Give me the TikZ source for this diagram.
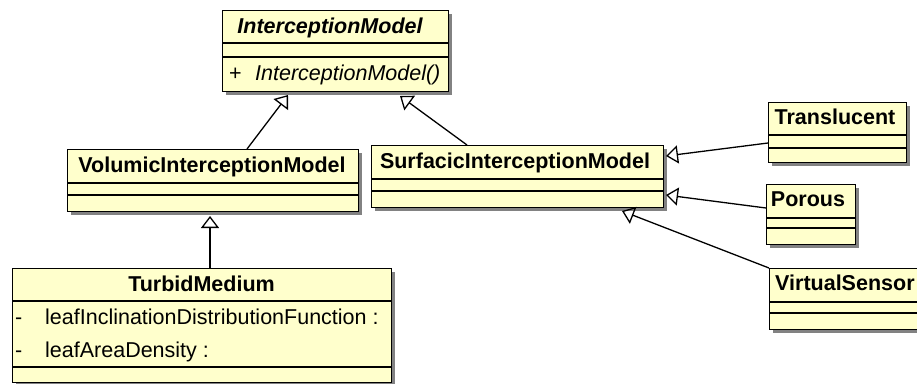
\documentclass[tikz,border=0pt]{standalone}
\usepackage{fontspec}
\setmainfont{Liberation Sans}
\usetikzlibrary{arrows.meta,shadows}

\definecolor{classfill}{RGB}{255,255,204}
\definecolor{shadowgray}{RGB}{130,130,130}

\begin{document}
\begin{tikzpicture}[x=1pt,y=-1pt,
  classbox/.style={draw=black, line width=1.3pt, fill=classfill, inner sep=0pt,
    anchor=north west,
    drop shadow={shadow xshift=3pt, shadow yshift=-3pt, fill=shadowgray, opacity=1}},
  sep/.style={line width=1.3pt},
  umltext/.style={inner sep=0pt, anchor=base, font=\fontsize{21.5}{24}\selectfont},
  classname/.style={umltext, font=\fontsize{21.5}{24}\selectfont\bfseries},
  member/.style={umltext, anchor=base west},
  gen/.style={line width=1.3pt,
    -{Triangle[open, length=12pt, width=18pt, line width=1.3pt]}}
]
\useasboundingbox (0,0) rectangle (917,383);

% ---- InterceptionModel ----
\node[classbox, minimum width=226pt, minimum height=81pt] (im) at (222,10) {};
\draw[sep] (im.west |- 0,43) -- (im.east |- 0,43);
\draw[sep] (im.west |- 0,57) -- (im.east |- 0,57);
\node[classname] (imName) at (330,33) {\itshape InterceptionModel};
\node[member] (imPlus) at (229,80) {+};
\node[member] (imCtor) at (255,80) {\itshape InterceptionModel()};

% ---- VolumicInterceptionModel ----
\node[classbox, minimum width=291pt, minimum height=62pt] (vim) at (67,149) {};
\draw[sep] (vim.west |- 0,183) -- (vim.east |- 0,183);
\draw[sep] (vim.west |- 0,195) -- (vim.east |- 0,195);
\node[classname] (vimName) at (212,172) {VolumicInterceptionModel};

% ---- SurfacicInterceptionModel ----
\node[classbox, minimum width=292pt, minimum height=62pt] (sim) at (371,145) {};
\draw[sep] (sim.west |- 0,179) -- (sim.east |- 0,179);
\draw[sep] (sim.west |- 0,191) -- (sim.east |- 0,191);
\node[classname] (simName) at (515,168) {SurfacicInterceptionModel};

% ---- TurbidMedium ----
\node[classbox, minimum width=379pt, minimum height=114pt] (tm) at (12,268) {};
\draw[sep] (tm.west |- 0,301) -- (tm.east |- 0,301);
\draw[sep] (tm.west |- 0,367) -- (tm.east |- 0,367);
\node[classname] (tmName) at (201.5,291) {TurbidMedium};
\node[member] (tmDash1) at (15,324) {-};
\node[member] (tmAttr1) at (45,324) {leafInclinationDistributionFunction :};
\node[member] (tmDash2) at (15,357) {-};
\node[member] (tmAttr2) at (45,357) {leafAreaDensity :};

% ---- Translucent ----
\node[classbox, minimum width=138pt, minimum height=60pt] (tr) at (768,102) {};
\draw[sep] (tr.west |- 0,135) -- (tr.east |- 0,135);
\draw[sep] (tr.west |- 0,148) -- (tr.east |- 0,148);
\node[classname] (trName) at (835,124) {Translucent};

% ---- Porous ----
\node[classbox, minimum width=89pt, minimum height=60pt] (po) at (766,184) {};
\draw[sep] (po.west |- 0,218) -- (po.east |- 0,218);
\draw[sep] (po.west |- 0,228) -- (po.east |- 0,228);
\node[classname] (poName) at (808,206) {Porous};

% ---- VirtualSensor ----
\node[classbox, minimum width=152pt, minimum height=61pt] (vs) at (769,268) {};
\draw[sep] (vs.west |- 0,302) -- (vs.east |- 0,302);
\draw[sep] (vs.west |- 0,313) -- (vs.east |- 0,313);
\node[classname, anchor=base west] (vsName) at (775,290) {VirtualSensor};

% ---- generalisation arrows ----
\coordinate (imTipL) at (288,95);
\coordinate (imTipR) at (400,96);
\coordinate (vimTip) at (210,216);
\coordinate (simTipA) at (666,156);
\coordinate (simTipB) at (666,195);
\coordinate (simTipC) at (622,211);

\draw[gen] (vim.north -| 247,0) -- (imTipL);
\draw[gen] (sim.north -| 467,0) -- (imTipR);
\draw[gen] (tm.north -| 210,0) -- (vimTip);
\draw[gen] (tr.west |- 0,143) -- (simTipA);
\draw[gen] (po.west |- 0,208) -- (simTipB);
\draw[gen] (vs.north west) -- (simTipC);
\end{tikzpicture}
\end{document}
